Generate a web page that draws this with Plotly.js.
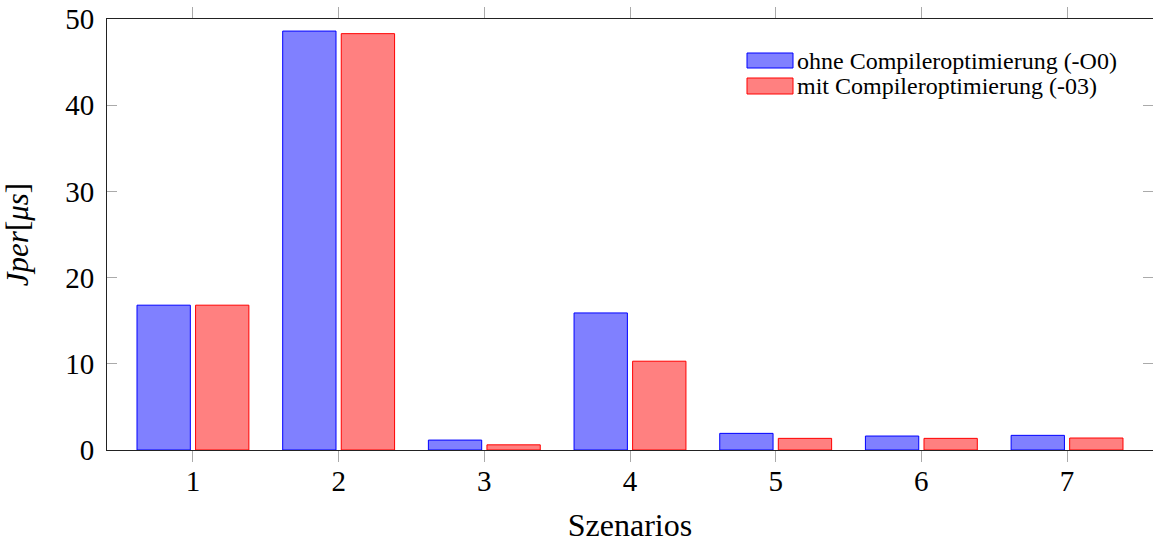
<!DOCTYPE html>
<html>
<head>
<meta charset="utf-8">
<script src="https://cdn.plot.ly/plotly-3.0.1.min.js"></script>
<style>html,body{margin:0;padding:0;overflow:hidden;background:#fff}</style>
</head>
<body>
<div id="chart" style="width:1153px;height:543px"></div>
<script>
const scenarios = [1, 2, 3, 4, 5, 6, 7];
const ohneO0 = [16.8, 48.6, 1.15, 15.9, 1.93, 1.62, 1.7];
const mitO3 = [16.8, 48.3, 0.6, 10.3, 1.35, 1.35, 1.39];
const seriesNames = ['ohne Compileroptimierung (-O0)', 'mit Compileroptimierung (-03)'];
const yTicks = [0, 10, 20, 30, 40, 50];

const FONT = 'Liberation Serif';
const W = 0.366, G = 0.018;

const traces = [
  {type: 'bar', x: scenarios, y: ohneO0, name: seriesNames[0], width: W, offset: -(W + G),
   marker: {color: 'rgb(128,128,255)', line: {color: 'rgb(0,0,255)', width: 1}}, showlegend: false},
  {type: 'bar', x: scenarios, y: mitO3, name: seriesNames[1], width: W, offset: G,
   marker: {color: 'rgb(255,128,128)', line: {color: 'rgb(255,0,0)', width: 1}}, showlegend: false}
];

const layout = {
  width: 1153, height: 543,
  margin: {l: 107, r: 0, t: 19, b: 93},
  paper_bgcolor: '#fff', plot_bgcolor: '#fff',
  barmode: 'overlay',
  font: {family: FONT, color: '#000', size: 24},
  showlegend: false,
  xaxis: {
    range: [0.41, 7.59], tickvals: scenarios, ticktext: scenarios.map(String),
    ticks: 'outside', ticklen: 11, tickcolor: '#aaa', tickwidth: 1,
    showline: true, linecolor: '#222', linewidth: 1, mirror: 'ticks',
    showgrid: false, zeroline: false,
    ticklabelstandoff: -6,
    tickfont: {family: FONT, size: 29},
    title: {text: 'Szenarios', font: {family: FONT, size: 32}, standoff: 18}
  },
  yaxis: {
    range: [0, 50], tickvals: yTicks,
    ticks: 'inside', ticklen: 10, tickcolor: '#aaa', tickwidth: 1,
    showline: true, linecolor: '#222', linewidth: 1, mirror: 'ticks',
    showgrid: false, zeroline: false,
    ticklabelstandoff: 6,
    tickfont: {family: FONT, size: 29},
    title: {text: '<i>Jper</i>[<i>μs</i>]', font: {family: FONT, size: 31}, standoff: 28}
  },
  shapes: [
    {type: 'rect', xref: 'paper', yref: 'paper', x0: (747-107)/1046, x1: (793-107)/1046,
     y0: (450-68)/431, y1: (450-53)/431, fillcolor: 'rgb(128,128,255)', line: {color: 'rgb(0,0,255)', width: 1}},
    {type: 'rect', xref: 'paper', yref: 'paper', x0: (747-107)/1046, x1: (793-107)/1046,
     y0: (450-94)/431, y1: (450-78)/431, fillcolor: 'rgb(255,128,128)', line: {color: 'rgb(255,0,0)', width: 1}}
  ],
  annotations: [
    {xref: 'paper', yref: 'paper', x: (795-107)/1046, y: (450-61)/431, xanchor: 'left', yanchor: 'middle',
     text: seriesNames[0], showarrow: false, font: {family: FONT, size: 24}},
    {xref: 'paper', yref: 'paper', x: (795-107)/1046, y: (450-86)/431, xanchor: 'left', yanchor: 'middle',
     text: seriesNames[1], showarrow: false, font: {family: FONT, size: 24}}
  ]
};

Plotly.newPlot('chart', traces, layout, {displayModeBar: false, staticPlot: true});
</script>
</body>
</html>
